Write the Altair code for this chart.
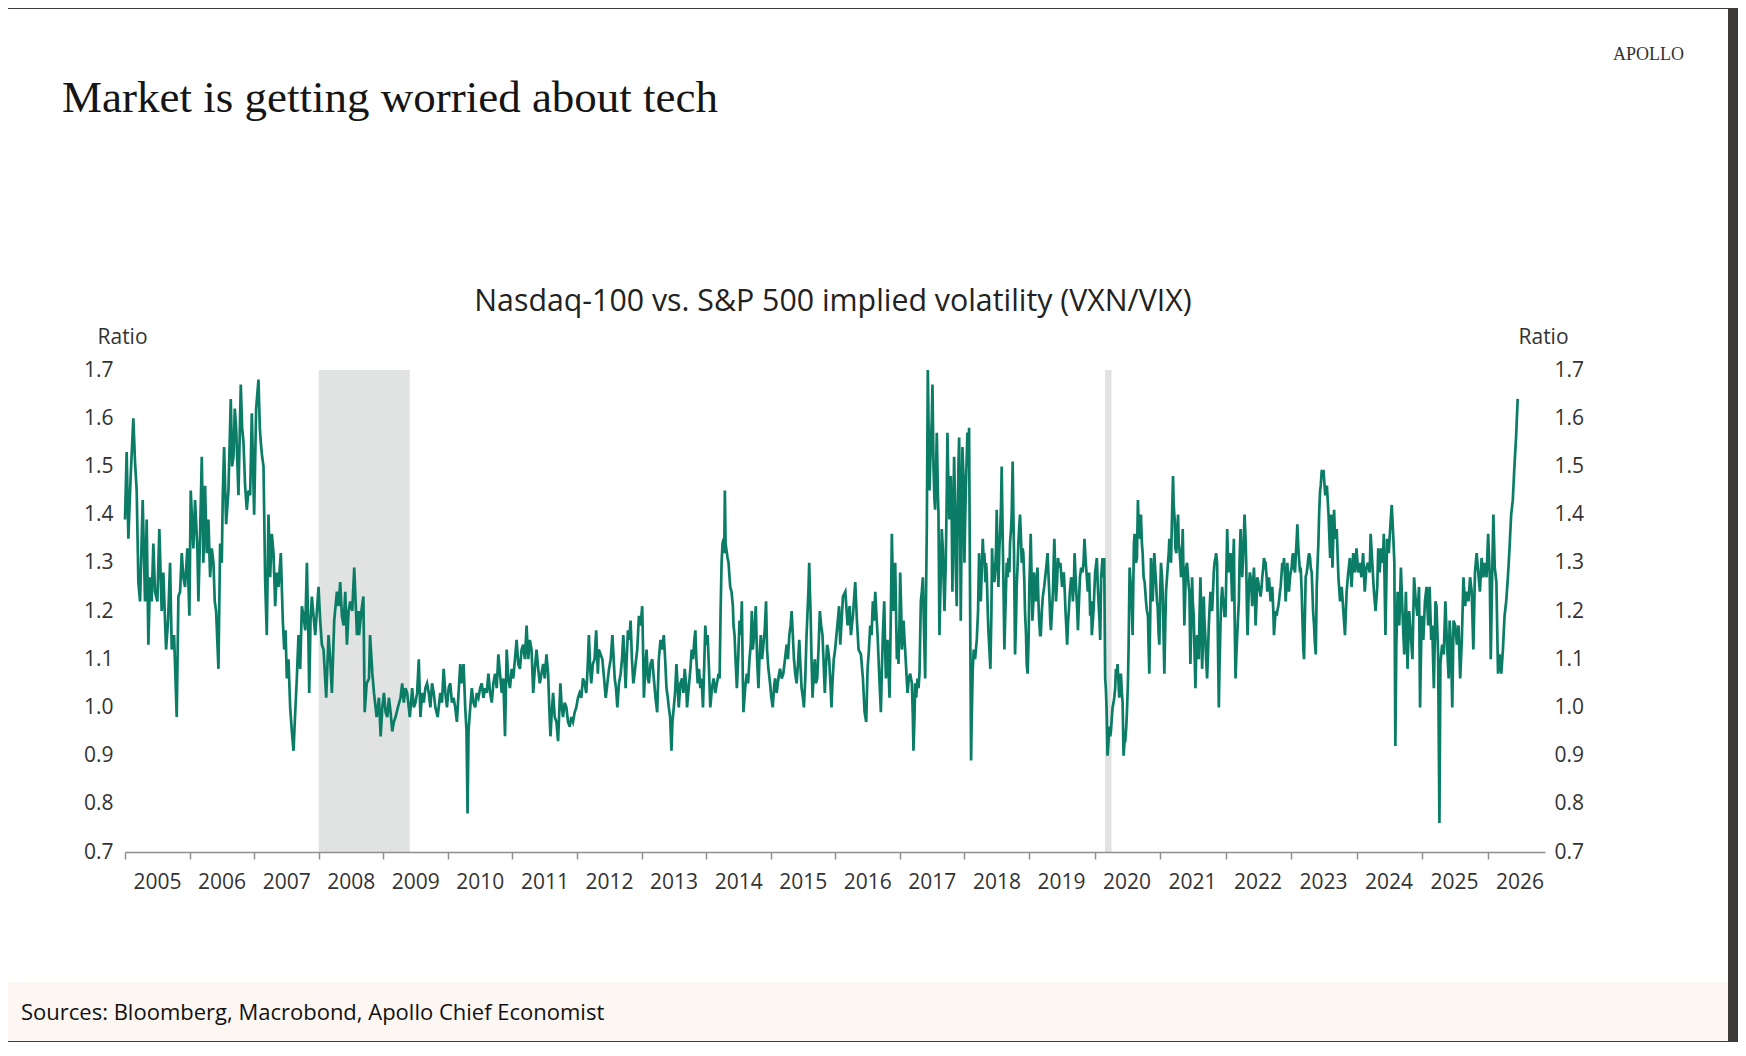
import altair as alt
import pandas as pd

# ---------------- text ----------------
TITLE = "Market is getting worried about tech"
SUBTITLE = "Nasdaq-100 vs. S&P 500 implied volatility (VXN/VIX)"
BRAND = "APOLLO"
SOURCE = "Sources: Bloomberg, Macrobond, Apollo Chief Economist"
Y_TITLE = "Ratio"
YEAR_TICKS = list(range(2005, 2027))
Y_TICKS = [0.7, 0.8, 0.9, 1.0, 1.1, 1.2, 1.3, 1.4, 1.5, 1.6, 1.7]

# recessions (decimal year start / end)
REC_START = [2008.00, 2020.16]
REC_END = [2009.41, 2020.26]

# ---------------- VXN/VIX ratio, (decimal year, ratio) ----------------
seg_2005_2008 = [
    (2005.000, 1.39), (2005.026, 1.53), (2005.052, 1.35), (2005.088, 1.48), (2005.129, 1.60),
    (2005.155, 1.51), (2005.181, 1.45), (2005.207, 1.26), (2005.233, 1.22), (2005.274, 1.43),
    (2005.310, 1.22), (2005.336, 1.39), (2005.362, 1.13), (2005.388, 1.27), (2005.413, 1.22),
    (2005.439, 1.34), (2005.465, 1.24), (2005.501, 1.22), (2005.532, 1.37), (2005.568, 1.20),
    (2005.594, 1.28), (2005.636, 1.12), (2005.667, 1.18), (2005.698, 1.30), (2005.724, 1.12),
    (2005.760, 1.15), (2005.801, 0.98), (2005.827, 1.23), (2005.853, 1.24), (2005.879, 1.32),
    (2005.904, 1.27), (2005.930, 1.25), (2005.966, 1.33), (2005.997, 1.19), (2006.018, 1.45),
    (2006.059, 1.33), (2006.085, 1.43), (2006.121, 1.33), (2006.137, 1.22), (2006.163, 1.36),
    (2006.189, 1.52), (2006.214, 1.30), (2006.240, 1.46), (2006.266, 1.32), (2006.292, 1.39),
    (2006.318, 1.27), (2006.344, 1.33), (2006.370, 1.30), (2006.390, 1.22), (2006.411, 1.20),
    (2006.447, 1.08), (2006.473, 1.34), (2006.499, 1.30), (2006.514, 1.44), (2006.535, 1.54),
    (2006.566, 1.38), (2006.602, 1.45), (2006.638, 1.64), (2006.659, 1.50), (2006.680, 1.52),
    (2006.700, 1.62), (2006.721, 1.58), (2006.742, 1.50), (2006.757, 1.44), (2006.793, 1.67),
    (2006.814, 1.58), (2006.835, 1.55), (2006.860, 1.46), (2006.886, 1.41), (2006.912, 1.45),
    (2006.938, 1.44), (2006.964, 1.61), (2007.000, 1.40), (2007.031, 1.62), (2007.067, 1.68),
    (2007.088, 1.58), (2007.103, 1.55), (2007.124, 1.52), (2007.145, 1.50), (2007.171, 1.26),
    (2007.196, 1.15), (2007.222, 1.40), (2007.248, 1.27), (2007.274, 1.36), (2007.300, 1.32),
    (2007.326, 1.21), (2007.351, 1.28), (2007.377, 1.25), (2007.413, 1.32), (2007.444, 1.18),
    (2007.465, 1.12), (2007.486, 1.16), (2007.506, 1.06), (2007.532, 1.10), (2007.558, 1.00),
    (2007.584, 0.95), (2007.610, 0.91), (2007.636, 0.99), (2007.661, 1.06), (2007.687, 1.15),
    (2007.713, 1.08), (2007.739, 1.21), (2007.765, 1.19), (2007.791, 1.16), (2007.817, 1.30),
    (2007.842, 1.13), (2007.853, 1.03), (2007.873, 1.18), (2007.894, 1.23), (2007.920, 1.19),
    (2007.946, 1.15), (2007.972, 1.20), (2007.997, 1.25), (2008.023, 1.18), (2008.049, 1.13),
    (2008.075, 1.12), (2008.116, 1.02), (2008.152, 1.15), (2008.178, 1.10), (2008.204, 1.03),
    (2008.240, 1.18), (2008.282, 1.24), (2008.307, 1.21), (2008.333, 1.26), (2008.359, 1.19),
    (2008.385, 1.17), (2008.411, 1.24), (2008.437, 1.13), (2008.463, 1.20), (2008.488, 1.22),
    (2008.519, 1.20), (2008.550, 1.29), (2008.592, 1.15), (2008.618, 1.20),
]

seg_2008_2012 = [
    (2008.625, 1.15), (2008.661, 1.20), (2008.692, 1.23), (2008.712, 0.99), (2008.743, 1.05),
    (2008.779, 1.06), (2008.795, 1.15), (2008.831, 1.07), (2008.856, 1.03), (2008.897, 0.98),
    (2008.933, 1.02), (2008.959, 0.94), (2008.985, 1.00), (2009.010, 1.03), (2009.036, 0.99),
    (2009.062, 0.98), (2009.087, 1.02), (2009.113, 0.99), (2009.139, 0.95), (2009.164, 0.97),
    (2009.190, 0.98), (2009.226, 1.00), (2009.267, 1.02), (2009.293, 1.05), (2009.318, 1.01),
    (2009.344, 1.04), (2009.370, 1.03), (2009.411, 0.98), (2009.447, 1.04), (2009.473, 1.00),
    (2009.498, 1.01), (2009.524, 1.03), (2009.550, 1.10), (2009.575, 0.98), (2009.601, 1.03),
    (2009.627, 1.01), (2009.652, 1.04), (2009.678, 1.05), (2009.704, 1.03), (2009.729, 1.00),
    (2009.755, 1.05), (2009.781, 1.03), (2009.807, 1.00), (2009.842, 0.98), (2009.883, 1.03),
    (2009.909, 1.01), (2009.935, 1.08), (2009.961, 1.03), (2009.986, 1.00), (2010.012, 1.04),
    (2010.037, 1.05), (2010.063, 1.01), (2010.089, 1.02), (2010.114, 1.00), (2010.140, 0.97),
    (2010.166, 1.03), (2010.192, 1.09), (2010.217, 1.05), (2010.243, 1.09), (2010.269, 1.00),
    (2010.289, 0.95), (2010.305, 0.78), (2010.320, 0.95), (2010.335, 0.98), (2010.371, 1.04),
    (2010.397, 1.01), (2010.423, 1.00), (2010.448, 1.03), (2010.474, 1.02), (2010.500, 1.04),
    (2010.525, 1.05), (2010.551, 1.02), (2010.577, 1.04), (2010.602, 1.03), (2010.628, 1.07),
    (2010.654, 1.03), (2010.680, 1.01), (2010.705, 1.05), (2010.731, 1.07), (2010.757, 1.04),
    (2010.782, 1.11), (2010.808, 1.07), (2010.834, 1.03), (2010.859, 1.06), (2010.885, 0.94),
    (2010.911, 1.12), (2010.936, 1.06), (2010.962, 1.04), (2010.988, 1.08), (2011.013, 1.06),
    (2011.039, 1.10), (2011.065, 1.14), (2011.090, 1.09), (2011.116, 1.08), (2011.142, 1.12),
    (2011.167, 1.13), (2011.193, 1.10), (2011.219, 1.17), (2011.244, 1.10), (2011.270, 1.14),
    (2011.296, 1.12), (2011.322, 1.03), (2011.347, 1.08), (2011.373, 1.12), (2011.399, 1.08),
    (2011.424, 1.05), (2011.450, 1.07), (2011.476, 1.09), (2011.501, 1.06), (2011.527, 1.11),
    (2011.553, 1.07), (2011.568, 1.01), (2011.589, 0.94), (2011.609, 0.99), (2011.630, 1.03),
    (2011.655, 0.98), (2011.681, 0.97), (2011.707, 0.93), (2011.743, 1.05), (2011.763, 1.00),
    (2011.784, 0.98), (2011.809, 1.01), (2011.835, 1.00), (2011.861, 0.97), (2011.887, 0.96),
    (2011.912, 0.98), (2011.938, 0.97), (2011.964, 0.99), (2011.989, 1.00), (2012.015, 1.02),
    (2012.040, 1.03), (2012.066, 1.02), (2012.092, 1.06), (2012.118, 1.05), (2012.143, 1.03),
    (2012.164, 1.08), (2012.184, 1.15), (2012.205, 1.08), (2012.220, 1.05), (2012.246, 1.09),
    (2012.272, 1.10), (2012.297, 1.16), (2012.323, 1.07), (2012.338, 1.12),
]

seg_2012_2016 = [
    (2012.393, 1.10), (2012.419, 1.06), (2012.445, 1.02), (2012.470, 1.05), (2012.496, 1.08),
    (2012.522, 1.10), (2012.548, 1.15), (2012.584, 1.06), (2012.604, 1.04), (2012.625, 1.00),
    (2012.650, 1.05), (2012.676, 1.07), (2012.697, 1.10), (2012.717, 1.15), (2012.738, 1.09),
    (2012.753, 1.04), (2012.769, 1.10), (2012.789, 1.16), (2012.810, 1.14), (2012.830, 1.18),
    (2012.851, 1.10), (2012.872, 1.05), (2012.892, 1.07), (2012.907, 1.09), (2012.933, 1.12),
    (2012.959, 1.19), (2012.985, 1.17), (2013.010, 1.21), (2013.026, 1.10), (2013.036, 1.02),
    (2013.057, 1.08), (2013.077, 1.12), (2013.098, 1.06), (2013.113, 1.05), (2013.139, 1.09),
    (2013.165, 1.10), (2013.190, 1.06), (2013.216, 1.02), (2013.242, 0.99), (2013.267, 1.10),
    (2013.293, 1.14), (2013.319, 1.12), (2013.344, 1.15), (2013.365, 1.10), (2013.386, 1.04),
    (2013.406, 1.02), (2013.422, 1.00), (2013.442, 0.98), (2013.463, 0.91), (2013.478, 0.97),
    (2013.499, 1.00), (2013.519, 1.03), (2013.540, 1.09), (2013.560, 1.04), (2013.576, 1.00),
    (2013.602, 1.05), (2013.627, 1.06), (2013.648, 1.03), (2013.668, 1.08), (2013.689, 1.05),
    (2013.704, 1.00), (2013.730, 1.04), (2013.756, 1.08), (2013.776, 1.12), (2013.797, 1.10),
    (2013.817, 1.14), (2013.833, 1.16), (2013.848, 1.10), (2013.869, 1.05), (2013.889, 1.08),
    (2013.910, 1.04), (2013.930, 1.06), (2013.951, 1.00), (2013.971, 1.09), (2013.987, 1.17),
    (2014.003, 1.13), (2014.023, 1.15), (2014.044, 1.08), (2014.064, 1.00), (2014.090, 1.04),
    (2014.116, 1.06), (2014.141, 1.03), (2014.167, 1.05), (2014.193, 1.07), (2014.208, 1.06),
    (2014.224, 1.20), (2014.239, 1.30), (2014.254, 1.34), (2014.270, 1.35), (2014.280, 1.32),
    (2014.290, 1.45), (2014.301, 1.34), (2014.311, 1.33), (2014.332, 1.31), (2014.347, 1.30),
    (2014.362, 1.27), (2014.373, 1.25), (2014.393, 1.24), (2014.414, 1.21), (2014.424, 1.17),
    (2014.440, 1.15), (2014.455, 1.10), (2014.476, 1.04), (2014.496, 1.10), (2014.517, 1.18),
    (2014.537, 1.15), (2014.553, 1.22), (2014.568, 1.06), (2014.578, 0.99), (2014.604, 1.04),
    (2014.630, 1.07), (2014.650, 1.05), (2014.671, 1.10), (2014.691, 1.13), (2014.707, 1.20),
    (2014.722, 1.12), (2014.743, 1.15), (2014.769, 1.21), (2014.789, 1.10), (2014.810, 1.04),
    (2014.825, 1.10), (2014.846, 1.15), (2014.866, 1.10), (2014.887, 1.13), (2014.907, 1.16),
    (2014.928, 1.22), (2014.943, 1.12), (2014.964, 1.08), (2014.990, 1.05), (2015.010, 1.02),
    (2015.031, 1.00), (2015.051, 1.04), (2015.067, 1.06), (2015.093, 1.03), (2015.118, 1.06),
    (2015.144, 1.08), (2015.170, 1.06), (2015.195, 1.07), (2015.221, 1.10), (2015.247, 1.13),
    (2015.267, 1.10), (2015.288, 1.15), (2015.308, 1.17), (2015.324, 1.20), (2015.339, 1.16),
    (2015.360, 1.10), (2015.380, 1.07), (2015.401, 1.05), (2015.422, 1.09), (2015.442, 1.14),
    (2015.463, 1.08), (2015.478, 1.04), (2015.499, 1.02), (2015.514, 1.00), (2015.535, 1.06),
    (2015.555, 1.15), (2015.571, 1.20), (2015.586, 1.25), (2015.596, 1.30), (2015.607, 1.24),
    (2015.617, 1.20), (2015.632, 1.10), (2015.648, 1.02), (2015.668, 1.08), (2015.684, 1.10),
    (2015.699, 1.05), (2015.720, 1.06), (2015.740, 1.12), (2015.761, 1.20), (2015.781, 1.17),
    (2015.802, 1.15), (2015.823, 1.08), (2015.838, 1.03), (2015.853, 1.08), (2015.874, 1.13),
    (2015.889, 1.12), (2015.905, 1.10), (2015.925, 1.05), (2015.941, 1.00), (2015.956, 1.05),
    (2015.977, 1.10), (2015.997, 1.12), (2016.018, 1.15), (2016.039, 1.18), (2016.059, 1.21),
]

seg_2016_2019 = [
    (2016.077, 1.13), (2016.119, 1.23), (2016.155, 1.24), (2016.191, 1.17), (2016.222, 1.21),
    (2016.242, 1.15), (2016.273, 1.19), (2016.309, 1.26), (2016.335, 1.18), (2016.361, 1.12),
    (2016.397, 1.11), (2016.428, 1.06), (2016.454, 0.99), (2016.479, 0.97), (2016.500, 1.08),
    (2016.521, 1.12), (2016.541, 1.17), (2016.562, 1.15), (2016.582, 1.22), (2016.598, 1.18),
    (2016.619, 1.24), (2016.634, 1.20), (2016.655, 1.15), (2016.670, 1.10), (2016.686, 1.05),
    (2016.706, 0.99), (2016.722, 1.08), (2016.737, 1.15), (2016.758, 1.22), (2016.773, 1.12),
    (2016.784, 1.06), (2016.799, 1.10), (2016.809, 1.14), (2016.825, 1.08), (2016.840, 1.02),
    (2016.861, 1.20), (2016.876, 1.36), (2016.892, 1.25), (2016.902, 1.20), (2016.918, 1.24),
    (2016.928, 1.30), (2016.943, 1.18), (2016.954, 1.10), (2016.969, 1.12), (2016.979, 1.09),
    (2016.995, 1.18), (2017.005, 1.28), (2017.021, 1.20), (2017.031, 1.12), (2017.046, 1.16),
    (2017.057, 1.18), (2017.072, 1.14), (2017.082, 1.12), (2017.098, 1.08), (2017.119, 1.03),
    (2017.139, 1.06), (2017.160, 1.07), (2017.186, 1.05), (2017.201, 0.98), (2017.211, 0.91),
    (2017.227, 0.98), (2017.237, 1.05), (2017.253, 1.02), (2017.273, 1.06), (2017.289, 1.04),
    (2017.304, 1.07), (2017.325, 1.22), (2017.340, 1.24), (2017.356, 1.27), (2017.376, 1.15),
    (2017.392, 1.06), (2017.407, 1.25), (2017.418, 1.38), (2017.433, 1.70), (2017.448, 1.55),
    (2017.459, 1.45), (2017.469, 1.50), (2017.485, 1.56), (2017.495, 1.60), (2017.505, 1.67),
    (2017.521, 1.50), (2017.536, 1.43), (2017.546, 1.41), (2017.562, 1.50), (2017.572, 1.57),
    (2017.588, 1.45), (2017.598, 1.40), (2017.613, 1.15), (2017.624, 1.22), (2017.639, 1.30),
    (2017.649, 1.37), (2017.665, 1.33), (2017.675, 1.28), (2017.691, 1.20), (2017.701, 1.25),
    (2017.711, 1.30), (2017.727, 1.45), (2017.737, 1.57), (2017.753, 1.45), (2017.768, 1.39),
    (2017.778, 1.44), (2017.789, 1.48), (2017.804, 1.38), (2017.814, 1.24), (2017.830, 1.40),
    (2017.840, 1.52), (2017.856, 1.42), (2017.866, 1.29), (2017.881, 1.21), (2017.892, 1.35),
    (2017.907, 1.50), (2017.918, 1.56), (2017.933, 1.40), (2017.943, 1.18), (2017.959, 1.40),
    (2017.969, 1.54), (2017.985, 1.48), (2018.000, 1.30), (2018.010, 1.38), (2018.021, 1.45),
    (2018.036, 1.52), (2018.046, 1.57), (2018.062, 1.50), (2018.072, 1.58), (2018.082, 1.35),
    (2018.093, 1.10), (2018.103, 0.89), (2018.113, 0.98), (2018.129, 1.08), (2018.144, 1.12),
    (2018.165, 1.10), (2018.191, 1.14), (2018.211, 1.20), (2018.227, 1.32), (2018.242, 1.26),
    (2018.253, 1.22), (2018.268, 1.28), (2018.284, 1.35), (2018.299, 1.30), (2018.309, 1.32),
    (2018.325, 1.26), (2018.335, 1.30), (2018.345, 1.28), (2018.361, 1.20), (2018.371, 1.16),
    (2018.387, 1.12), (2018.402, 1.08), (2018.418, 1.20), (2018.428, 1.33), (2018.438, 1.28),
    (2018.448, 1.30), (2018.464, 1.26), (2018.474, 1.28), (2018.490, 1.33), (2018.500, 1.41),
    (2018.515, 1.30), (2018.526, 1.25), (2018.541, 1.33), (2018.552, 1.36), (2018.567, 1.42),
    (2018.577, 1.50), (2018.593, 1.35), (2018.603, 1.27), (2018.619, 1.12), (2018.634, 1.20),
    (2018.655, 1.30), (2018.670, 1.27), (2018.680, 1.31), (2018.696, 1.28), (2018.706, 1.34),
    (2018.722, 1.37), (2018.732, 1.40), (2018.747, 1.51), (2018.758, 1.40), (2018.768, 1.32),
    (2018.784, 1.11), (2018.799, 1.18), (2018.809, 1.25), (2018.825, 1.30), (2018.835, 1.34),
    (2018.851, 1.38), (2018.861, 1.40), (2018.876, 1.35), (2018.887, 1.30), (2018.902, 1.33),
    (2018.912, 1.32), (2018.928, 1.26), (2018.938, 1.20), (2018.954, 1.15), (2018.964, 1.09),
    (2018.979, 1.07), (2018.995, 1.15), (2019.005, 1.25), (2019.015, 1.30), (2019.026, 1.36),
    (2019.041, 1.26), (2019.052, 1.18), (2019.067, 1.22), (2019.077, 1.28), (2019.093, 1.25),
    (2019.103, 1.22), (2019.119, 1.26), (2019.129, 1.29), (2019.144, 1.22), (2019.155, 1.18),
    (2019.170, 1.15), (2019.180, 1.15), (2019.196, 1.20), (2019.211, 1.23), (2019.232, 1.25),
    (2019.247, 1.27), (2019.263, 1.29), (2019.284, 1.32), (2019.299, 1.27), (2019.309, 1.24),
    (2019.325, 1.18), (2019.335, 1.16), (2019.351, 1.20), (2019.366, 1.24), (2019.376, 1.30),
    (2019.387, 1.35), (2019.402, 1.28), (2019.412, 1.22), (2019.428, 1.26), (2019.443, 1.31),
    (2019.459, 1.29), (2019.479, 1.30), (2019.495, 1.27), (2019.505, 1.25), (2019.521, 1.27),
    (2019.531, 1.28), (2019.546, 1.24), (2019.557, 1.20), (2019.572, 1.16), (2019.582, 1.13),
    (2019.598, 1.18), (2019.608, 1.20), (2019.624, 1.24), (2019.644, 1.27), (2019.660, 1.25),
    (2019.670, 1.22), (2019.686, 1.26), (2019.696, 1.32), (2019.711, 1.27), (2019.722, 1.24),
    (2019.737, 1.20), (2019.747, 1.16), (2019.763, 1.22), (2019.778, 1.27),
]

seg_2019_2023 = [
    (2019.796, 1.29), (2019.816, 1.28), (2019.832, 1.30), (2019.847, 1.35), (2019.867, 1.30),
    (2019.883, 1.27), (2019.898, 1.24), (2019.918, 1.28), (2019.934, 1.19), (2019.949, 1.22),
    (2019.959, 1.15), (2019.985, 1.20), (2020.010, 1.28), (2020.036, 1.31), (2020.051, 1.25),
    (2020.061, 1.22), (2020.077, 1.18), (2020.087, 1.14), (2020.102, 1.27), (2020.122, 1.31),
    (2020.138, 1.27), (2020.148, 1.31), (2020.163, 1.06), (2020.173, 1.04), (2020.184, 1.00),
    (2020.199, 0.90), (2020.214, 0.93), (2020.224, 0.96), (2020.240, 0.94), (2020.250, 0.95),
    (2020.265, 0.98), (2020.276, 1.00), (2020.291, 1.01), (2020.301, 1.02), (2020.316, 1.04),
    (2020.327, 1.08), (2020.342, 1.06), (2020.352, 1.09), (2020.367, 1.05), (2020.378, 1.02),
    (2020.393, 1.06), (2020.403, 1.07), (2020.418, 1.03), (2020.429, 1.01), (2020.444, 0.90),
    (2020.459, 0.93), (2020.469, 0.93), (2020.485, 0.96), (2020.495, 0.99), (2020.510, 1.05),
    (2020.520, 1.12), (2020.536, 1.29), (2020.546, 1.27), (2020.561, 1.24), (2020.571, 1.20),
    (2020.582, 1.15), (2020.592, 1.25), (2020.602, 1.34), (2020.612, 1.36), (2020.622, 1.32),
    (2020.633, 1.30), (2020.648, 1.31), (2020.663, 1.43), (2020.673, 1.38), (2020.684, 1.36),
    (2020.699, 1.35), (2020.709, 1.40), (2020.724, 1.34), (2020.735, 1.32), (2020.750, 1.27),
    (2020.765, 1.26), (2020.776, 1.24), (2020.786, 1.22), (2020.801, 1.20), (2020.816, 1.19),
    (2020.827, 1.12), (2020.837, 1.07), (2020.852, 1.20), (2020.862, 1.31), (2020.878, 1.25),
    (2020.888, 1.22), (2020.903, 1.28), (2020.913, 1.32), (2020.929, 1.28), (2020.939, 1.26),
    (2020.954, 1.22), (2020.964, 1.21), (2020.980, 1.15), (2020.990, 1.13), (2021.005, 1.25),
    (2021.015, 1.30), (2021.031, 1.27), (2021.041, 1.24), (2021.056, 1.14), (2021.066, 1.07),
    (2021.082, 1.18), (2021.092, 1.24), (2021.107, 1.27), (2021.117, 1.29), (2021.133, 1.32),
    (2021.143, 1.35), (2021.158, 1.33), (2021.168, 1.30), (2021.184, 1.40), (2021.199, 1.48),
    (2021.209, 1.42), (2021.224, 1.39), (2021.235, 1.33), (2021.250, 1.32), (2021.260, 1.36),
    (2021.276, 1.40), (2021.286, 1.34), (2021.296, 1.33), (2021.311, 1.30), (2021.321, 1.27),
    (2021.337, 1.32), (2021.347, 1.37), (2021.362, 1.25), (2021.372, 1.17), (2021.388, 1.25),
    (2021.398, 1.29), (2021.413, 1.30), (2021.423, 1.28), (2021.439, 1.25), (2021.449, 1.24),
    (2021.464, 1.09), (2021.474, 1.15), (2021.490, 1.27), (2021.500, 1.22), (2021.515, 1.19),
    (2021.526, 1.12), (2021.541, 1.04), (2021.551, 1.10), (2021.566, 1.15), (2021.577, 1.13),
    (2021.592, 1.10), (2021.602, 1.18), (2021.617, 1.27), (2021.628, 1.20), (2021.643, 1.08),
    (2021.653, 1.12), (2021.668, 1.23), (2021.679, 1.18), (2021.694, 1.14), (2021.704, 1.10),
    (2021.719, 1.06), (2021.730, 1.10), (2021.745, 1.17), (2021.755, 1.20), (2021.770, 1.24),
    (2021.781, 1.22), (2021.796, 1.20), (2021.806, 1.23), (2021.821, 1.28), (2021.832, 1.30),
    (2021.847, 1.31), (2021.857, 1.32), (2021.872, 1.30), (2021.883, 1.15), (2021.898, 1.00),
    (2021.908, 1.08), (2021.923, 1.17), (2021.934, 1.22), (2021.949, 1.25), (2021.959, 1.23),
    (2021.974, 1.21), (2021.985, 1.19), (2022.000, 1.19), (2022.010, 1.26), (2022.026, 1.37),
    (2022.036, 1.32), (2022.051, 1.28), (2022.061, 1.30), (2022.077, 1.32), (2022.087, 1.28),
    (2022.102, 1.22), (2022.112, 1.28), (2022.128, 1.35), (2022.138, 1.20), (2022.153, 1.06),
    (2022.163, 1.10), (2022.179, 1.15), (2022.189, 1.18), (2022.204, 1.22), (2022.214, 1.30),
    (2022.230, 1.37), (2022.240, 1.32), (2022.255, 1.27), (2022.265, 1.30), (2022.281, 1.36),
    (2022.291, 1.40), (2022.306, 1.35), (2022.316, 1.30), (2022.327, 1.20), (2022.337, 1.15),
    (2022.347, 1.20), (2022.357, 1.25), (2022.372, 1.28), (2022.383, 1.27), (2022.398, 1.24),
    (2022.408, 1.21), (2022.423, 1.26), (2022.434, 1.29), (2022.449, 1.24), (2022.459, 1.17),
    (2022.474, 1.22), (2022.485, 1.27), (2022.500, 1.26), (2022.510, 1.25), (2022.526, 1.24),
    (2022.536, 1.23), (2022.551, 1.25), (2022.561, 1.27), (2022.577, 1.29), (2022.587, 1.31),
    (2022.602, 1.30), (2022.612, 1.30), (2022.628, 1.27), (2022.638, 1.24), (2022.653, 1.26),
    (2022.663, 1.27), (2022.679, 1.24), (2022.689, 1.22), (2022.704, 1.23), (2022.714, 1.25),
    (2022.730, 1.20), (2022.740, 1.15), (2022.755, 1.18), (2022.765, 1.20), (2022.781, 1.19),
    (2022.791, 1.20), (2022.806, 1.21), (2022.816, 1.22), (2022.832, 1.24), (2022.842, 1.25),
    (2022.857, 1.28), (2022.867, 1.30), (2022.883, 1.29), (2022.893, 1.31), (2022.908, 1.27),
    (2022.918, 1.22), (2022.934, 1.26), (2022.944, 1.30), (2022.959, 1.26), (2022.969, 1.24),
    (2022.985, 1.27), (2022.995, 1.28), (2023.010, 1.29), (2023.020, 1.31), (2023.031, 1.32),
    (2023.046, 1.29), (2023.061, 1.28), (2023.071, 1.31), (2023.087, 1.35), (2023.097, 1.38),
    (2023.112, 1.33), (2023.122, 1.31), (2023.138, 1.28), (2023.148, 1.29), (2023.163, 1.24),
    (2023.173, 1.19), (2023.189, 1.12), (2023.199, 1.10), (2023.214, 1.20), (2023.224, 1.27),
    (2023.240, 1.28), (2023.250, 1.29), (2023.265, 1.31), (2023.276, 1.32), (2023.291, 1.31),
    (2023.301, 1.29), (2023.316, 1.28), (2023.327, 1.24), (2023.337, 1.20), (2023.352, 1.17),
    (2023.362, 1.14), (2023.378, 1.11), (2023.393, 1.25), (2023.403, 1.29), (2023.418, 1.34),
    (2023.429, 1.40), (2023.444, 1.45), (2023.454, 1.46), (2023.469, 1.49),
]

seg_2023_2026 = [
    (2023.497, 1.49), (2023.523, 1.44), (2023.548, 1.46), (2023.573, 1.40), (2023.598, 1.31),
    (2023.613, 1.40), (2023.633, 1.29), (2023.658, 1.41), (2023.673, 1.35), (2023.698, 1.37),
    (2023.724, 1.27), (2023.749, 1.22), (2023.774, 1.25), (2023.799, 1.20), (2023.824, 1.15),
    (2023.849, 1.24), (2023.874, 1.28), (2023.899, 1.31), (2023.925, 1.25), (2023.950, 1.32),
    (2023.975, 1.28), (2024.000, 1.33), (2024.025, 1.28), (2024.050, 1.30), (2024.075, 1.27),
    (2024.101, 1.32), (2024.126, 1.24), (2024.151, 1.29), (2024.176, 1.30), (2024.201, 1.28),
    (2024.216, 1.36), (2024.241, 1.30), (2024.266, 1.24), (2024.291, 1.20), (2024.317, 1.25),
    (2024.332, 1.33), (2024.352, 1.28), (2024.377, 1.33), (2024.402, 1.30), (2024.417, 1.36),
    (2024.442, 1.15), (2024.467, 1.35), (2024.492, 1.32), (2024.518, 1.38), (2024.538, 1.42),
    (2024.563, 1.35), (2024.578, 1.30), (2024.593, 0.92), (2024.608, 1.13), (2024.628, 1.24),
    (2024.653, 1.17), (2024.678, 1.29), (2024.704, 1.19), (2024.729, 1.11), (2024.754, 1.24),
    (2024.779, 1.08), (2024.804, 1.20), (2024.829, 1.15), (2024.854, 1.10), (2024.879, 1.27),
    (2024.905, 1.22), (2024.930, 1.19), (2024.955, 1.25), (2024.970, 1.00), (2024.995, 1.19),
    (2025.020, 1.14), (2025.045, 1.22), (2025.070, 1.25), (2025.095, 1.17), (2025.116, 1.25),
    (2025.141, 1.14), (2025.156, 1.17), (2025.181, 1.04), (2025.206, 1.22), (2025.221, 1.21),
    (2025.246, 1.11), (2025.266, 0.76), (2025.281, 1.09), (2025.307, 1.13), (2025.332, 1.11),
    (2025.357, 1.22), (2025.382, 1.13), (2025.407, 1.06), (2025.422, 1.18), (2025.442, 1.13),
    (2025.462, 1.00), (2025.482, 1.18), (2025.508, 1.17), (2025.533, 1.13), (2025.558, 1.17),
    (2025.583, 1.06), (2025.608, 1.14), (2025.633, 1.27), (2025.658, 1.21), (2025.683, 1.24),
    (2025.709, 1.22), (2025.734, 1.27), (2025.759, 1.24), (2025.784, 1.12), (2025.809, 1.28),
    (2025.834, 1.32), (2025.859, 1.28), (2025.884, 1.24), (2025.910, 1.31), (2025.935, 1.27),
    (2025.960, 1.30), (2025.985, 1.27), (2026.010, 1.36), (2026.035, 1.27), (2026.050, 1.10),
    (2026.075, 1.30), (2026.090, 1.40), (2026.111, 1.29), (2026.136, 1.26), (2026.161, 1.07),
    (2026.186, 1.11), (2026.211, 1.07), (2026.236, 1.12), (2026.261, 1.19), (2026.286, 1.22),
    (2026.312, 1.27), (2026.337, 1.33), (2026.362, 1.40), (2026.387, 1.43), (2026.412, 1.50),
    (2026.437, 1.56), (2026.462, 1.64),
]

# ---------------- build tables ----------------
pairs = seg_2005_2008 + seg_2008_2012 + seg_2012_2016 + seg_2016_2019 + seg_2019_2023 + seg_2023_2026
df = pd.DataFrame(pairs, columns=["year", "ratio"])
rec = pd.DataFrame({"start": REC_START, "end": REC_END})
one = pd.DataFrame({"k": [0]})

# ---------------- layout / style ----------------
W, H = 1420, 482
PAD = {"left": 117, "top": 362, "right": 193, "bottom": 190}
LINE_COLOR = "#0b7d66"
LABEL_FONT = "Open Sans"
LABEL_COLOR = "#333333"
AXIS_GRAY = "#8f8f8f"

# the source's year spacing is slightly wider after 2019: piecewise-linear time scale
x_scale = alt.Scale(domain=[2005, 2019, 2026, 2026.88], range=[0, 904, 1362.5, W],
                    nice=False, zero=False)
y_scale = alt.Scale(domain=[0.7, 1.7], nice=False, zero=False)

x_axis = alt.Axis(
    values=YEAR_TICKS, format="d", labelOffset=32, tickSize=7, tickWidth=1.5,
    tickColor=AXIS_GRAY, domainColor=AXIS_GRAY, domainWidth=1.5, grid=False,
    labelFont=LABEL_FONT, labelFontSize=21, labelColor=LABEL_COLOR, labelPadding=12,
    labelFlush=False, labelOverlap=False, labelBound=False, title=None, zindex=1,
)

def y_axis(orient, pad, tx):
    return alt.Axis(
        orient=orient, values=Y_TICKS, format=".1f", domain=False, ticks=False, grid=False,
        labelFont=LABEL_FONT, labelFontSize=21, labelColor=LABEL_COLOR, labelPadding=pad,
        title=Y_TITLE, titleAngle=0, titleX=tx, titleY=-33, titleAlign="left",
        titleBaseline="middle", titleFont=LABEL_FONT, titleFontSize=21,
        titleFontWeight="normal", titleColor=LABEL_COLOR, zindex=1,
    )

panel = alt.Chart(one).mark_rect(color="#ffffff").encode(
    x=alt.value(-117), x2=alt.value(1603), y=alt.value(-361), y2=alt.value(671)
)
footer = alt.Chart(one).mark_rect(color="#fcf7f3").encode(
    x=alt.value(-117), x2=alt.value(1603), y=alt.value(612), y2=alt.value(671)
)
recess = alt.Chart(rec).mark_rect(color="#e1e2e2").encode(
    x=alt.X("start:Q", scale=x_scale, axis=x_axis), x2="end:Q"
)
line_left = alt.Chart(df).mark_line(color=LINE_COLOR, strokeWidth=2.7).encode(
    x=alt.X("year:Q", scale=x_scale, axis=x_axis),
    y=alt.Y("ratio:Q", scale=y_scale, axis=y_axis("left", 12, -28)),
)
line_right = alt.Chart(df).mark_line(color=LINE_COLOR, strokeWidth=2.7, strokeOpacity=0).encode(
    x=alt.X("year:Q", scale=x_scale, axis=x_axis),
    y=alt.Y("ratio:Q", scale=y_scale, axis=y_axis("right", 9, -27)),
)

title = alt.Chart(one).mark_text(
    text=TITLE, font="Liberation Serif", fontSize=45, color="#151515",
    align="left", baseline="alphabetic",
).encode(x=alt.value(-63), y=alt.value(-258))
brand = alt.Chart(one).mark_text(
    text=BRAND, font="Liberation Serif", fontSize=18, color="#333333",
    align="left", baseline="alphabetic",
).encode(x=alt.value(1488), y=alt.value(-310))
subtitle = alt.Chart(one).mark_text(
    text=SUBTITLE, font=LABEL_FONT, fontSize=30.3, color="#222222",
    align="center", baseline="alphabetic",
).encode(x=alt.value(708), y=alt.value(-59))
source = alt.Chart(one).mark_text(
    text=SOURCE, font=LABEL_FONT, fontSize=22, color="#111111",
    align="left", baseline="alphabetic",
).encode(x=alt.value(-104), y=alt.value(650))

chart = (
    alt.layer(panel, footer, recess, line_left, line_right, title, brand, subtitle, source)
    .resolve_scale(y="independent")
    .properties(
        width=W, height=H, padding=PAD, background="#3d3a37",
        autosize=alt.AutoSizeParams(type="none"),
    )
    .configure_view(strokeWidth=0)
)

chart.save("out.html", embed_options={"renderer": "svg", "actions": False})
